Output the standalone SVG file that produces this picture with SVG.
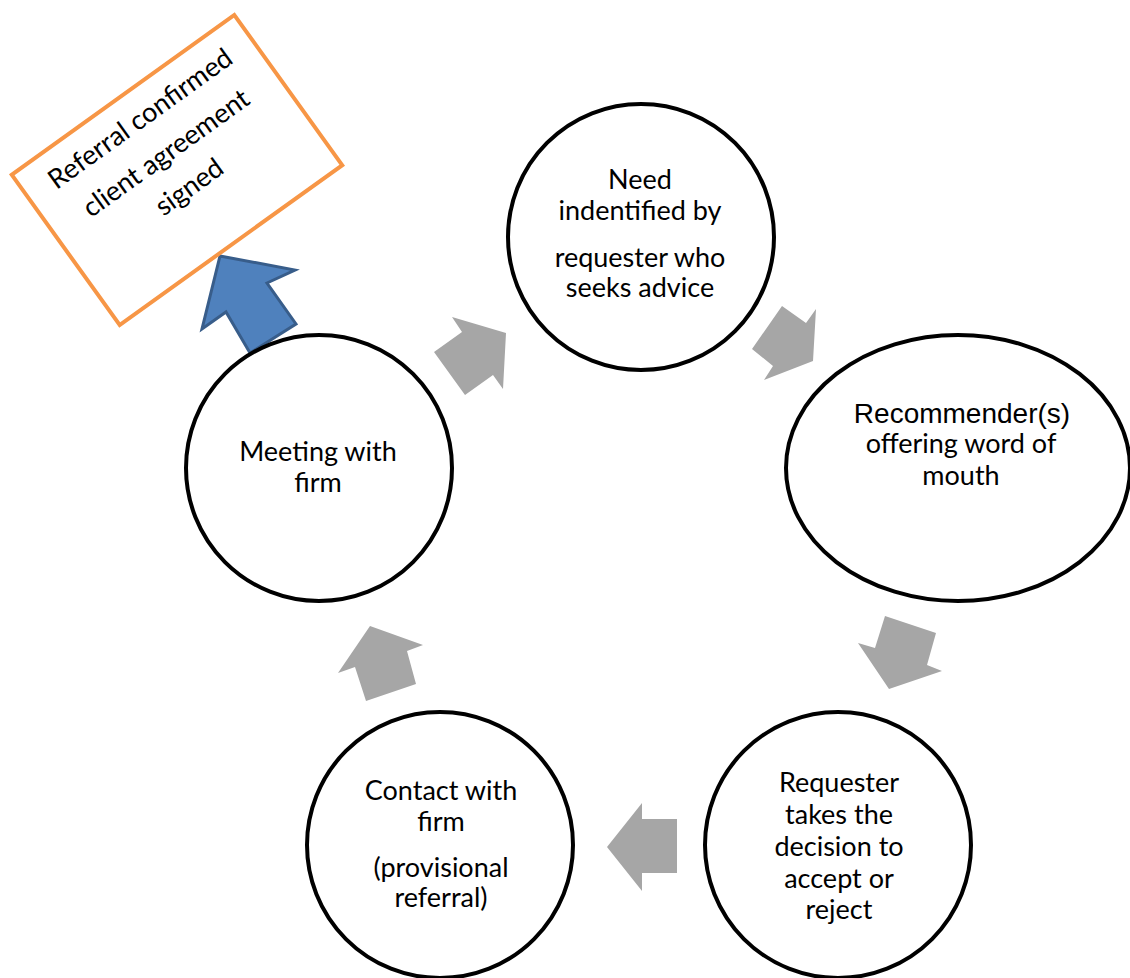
<svg xmlns="http://www.w3.org/2000/svg" width="1130" height="978" viewBox="0 0 1130 978">
<style>
.node{fill:#fff;stroke:#000;stroke-width:4}
.t{font-family:Lato,"Open Sans","Liberation Sans",sans-serif;font-size:27px;fill:#000;text-anchor:middle}
.ta{font-family:"Liberation Sans",Arial,sans-serif;font-size:28px;fill:#000;text-anchor:middle}
.gray{fill:#A6A6A6;stroke:none}
</style>
<rect width="1130" height="978" fill="#fff"/>
<g id="connectors">
<polygon class="gray" points="452,317 462,332 434,352 465,395 493,375 503,389 506,333"/>
<polygon class="gray" points="782,306 806,323 816,309 813,361 764,380 773,366 752,349"/>
<polygon class="gray" points="885,616 936,633 927,665 942,671 889,689 858,643 875,648"/>
<polygon class="gray" points="607,847 642,803 642,819 677,819 677,873 642,873 642,891"/>
<polygon class="gray" points="370,626 423,645 407,651 416,684 366,701 355,667 338,673"/>
<polygon id="blue-arrow" points="220,256 295,270 267,283 296,324 250,353 226,312 202,329" fill="#4F81BD" stroke="#385D8A" stroke-width="3" stroke-linejoin="miter"/>
</g>
<g id="node-referral">
<g transform="rotate(-35.7 177 170)">
<rect x="40" y="77.5" width="274" height="185" fill="#fff" stroke="#F79646" stroke-width="4"/>
<text class="t" x="177" y="116">Referral confirmed</text>
<text class="t" x="178" y="159">client agreement</text>
<text class="t" x="177" y="200">signed</text>
</g>
</g>
<g id="node-need">
<circle class="node" cx="641" cy="237" r="133"/>
<text class="t" x="640" y="189">Need</text>
<text class="t" x="640" y="220">indentified by</text>
<text class="t" x="640" y="267">requester who</text>
<text class="t" x="640" y="297">seeks advice</text>
</g>
<g id="node-recommender">
<ellipse class="node" cx="958" cy="468" rx="172" ry="133"/>
<text class="ta" x="962" y="423">Recommender(s)</text>
<text class="t" x="961" y="453">offering word of</text>
<text class="t" x="961" y="485">mouth</text>
</g>
<g id="node-decision">
<circle class="node" cx="838" cy="845" r="133"/>
<text class="t" x="839" y="792">Requester</text>
<text class="t" x="839" y="824">takes the</text>
<text class="t" x="839" y="856">decision to</text>
<text class="t" x="839" y="888">accept or</text>
<text class="t" x="839" y="919">reject</text>
</g>
<g id="node-contact">
<circle class="node" cx="440" cy="845" r="133"/>
<text class="t" x="441" y="800">Contact with</text>
<text class="t" x="441" y="831">firm</text>
<text class="t" x="441" y="877">(provisional</text>
<text class="t" x="441" y="907">referral)</text>
</g>
<g id="node-meeting">
<circle class="node" cx="319" cy="468" r="133"/>
<text class="t" x="318" y="461">Meeting with</text>
<text class="t" x="318" y="492">firm</text>
</g>
</svg>
